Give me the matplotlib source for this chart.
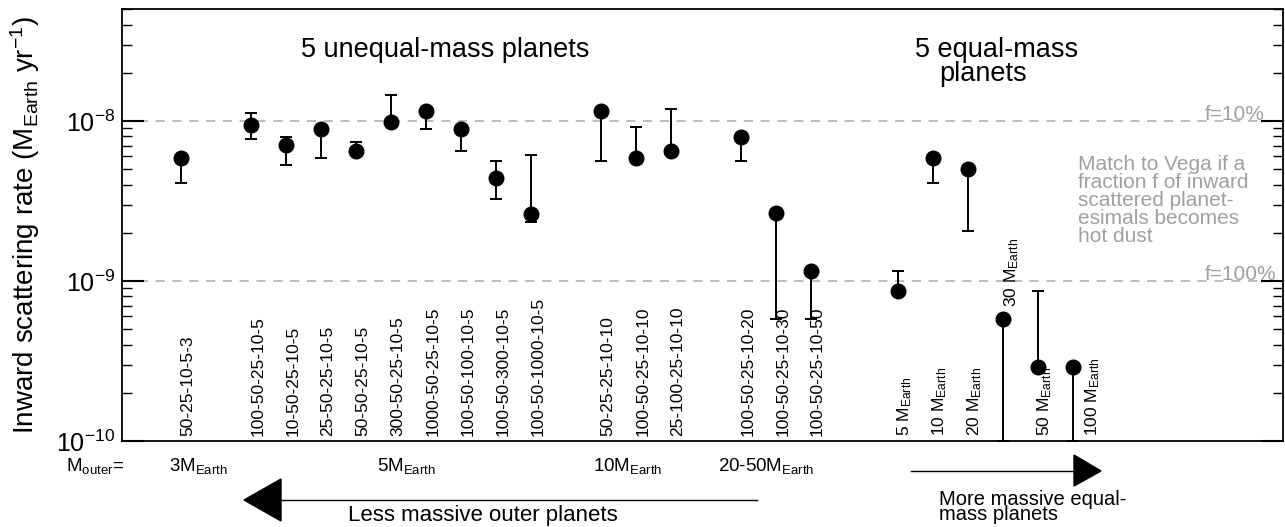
import matplotlib
matplotlib.use('Agg')
import matplotlib.pyplot as plt
import matplotlib.transforms as mtransforms
from matplotlib.patches import Polygon
from matplotlib.lines import Line2D

plt.rcParams['font.family'] = ['Liberation Sans', 'DejaVu Sans']
plt.rcParams['mathtext.fontset'] = 'custom'
plt.rcParams['mathtext.rm'] = 'Liberation Sans'
plt.rcParams['mathtext.it'] = 'Liberation Sans:italic'
plt.rcParams['mathtext.bf'] = 'Liberation Sans:bold'
plt.rcParams['axes.unicode_minus'] = False

# 5 unequal-mass planets (masses in M_Earth, listed as in the figure)
unequal_labels = ['50-25-10-5-3', '100-50-25-10-5', '10-50-25-10-5', '25-50-25-10-5',
                  '50-50-25-10-5', '300-50-25-10-5', '1000-50-25-10-5', '100-50-100-10-5',
                  '100-50-300-10-5', '100-50-1000-10-5', '50-25-25-10-10', '100-50-25-10-10',
                  '25-100-25-10-10', '100-50-25-10-20', '100-50-25-10-30', '100-50-25-10-50']
unequal_pos = [1, 3, 4, 5, 6, 7, 8, 9, 10, 11, 13, 14, 15, 17, 18, 19]
unequal_rate = [5.9e-9, 9.4e-9, 7.05e-9, 8.85e-9, 6.5e-9, 9.8e-9, 1.15e-8, 8.85e-9,
                4.4e-9, 2.62e-9, 1.15e-8, 5.9e-9, 6.5e-9, 7.9e-9, 2.64e-9, 1.16e-9]
unequal_low = [4.1e-9, 7.65e-9, 5.3e-9, 5.9e-9, 6.5e-9, 9.8e-9, 8.85e-9, 6.5e-9,
               3.23e-9, 2.34e-9, 5.6e-9, 5.9e-9, 6.5e-9, 5.6e-9, 5.8e-10, 5.8e-10]
unequal_high = [5.9e-9, 1.12e-8, 7.95e-9, 8.85e-9, 7.4e-9, 1.45e-8, 1.15e-8, 8.85e-9,
                5.6e-9, 6.15e-9, 1.15e-8, 9.15e-9, 1.18e-8, 7.9e-9, 2.64e-9, 1.16e-9]

# 5 equal-mass planets
equal_mass = ['5', '10', '20', '30', '50', '100']
equal_pos = [21.5, 22.5, 23.5, 24.5, 25.5, 26.5]
equal_rate = [8.7e-10, 5.9e-9, 5.0e-9, 5.8e-10, 2.9e-10, 2.9e-10]
equal_low = [8.7e-10, 4.1e-9, 2.05e-9, 1e-10, 2.9e-10, 1e-10]
equal_high = [1.16e-9, 5.9e-9, 5.0e-9, 5.8e-10, 8.7e-10, 2.9e-10]

W, H = 1285, 527
grey = '#a0a0a0'


def fpx(x, y):
    # image pixel -> figure fraction
    return x / W, 1 - y / H


fig = plt.figure(figsize=(W / 100, H / 100), dpi=100)
ax = fig.add_axes([122 / W, 86 / H, 1161 / W, 432 / H])

rates = unequal_rate + equal_rate
lows = unequal_low + equal_low
highs = unequal_high + equal_high
pos = unequal_pos + equal_pos
yerr = [[r - l for r, l in zip(rates, lows)], [h - r for r, h in zip(rates, highs)]]
ax.errorbar(pos, rates, yerr=yerr, fmt='o', color='black', markersize=10.5,
            elinewidth=1.4, capsize=4.3, capthick=1.4, zorder=3)

ax.axhline(1e-8, color='#aaaaaa', lw=1.1, ls=(0, (6, 5)), zorder=0)
ax.axhline(1e-9, color='#aaaaaa', lw=1.1, ls=(0, (6, 5)), zorder=0)

ax.set_yscale('log')
ax.set_ylim(1e-10, 5e-8)
ax.set_xlim(-0.68, 32.5)
ax.set_xticks([])
ax.tick_params(axis='y', which='both', direction='in', right=True, labelsize=18, pad=5)
ax.tick_params(axis='y', which='major', length=16, width=1.5)
ax.tick_params(axis='y', which='minor', length=7.5, width=1.0)
for s in ax.spines.values():
    s.set_linewidth(1.3)

ax.set_ylabel('Inward scattering rate (M$_{\\mathregular{Earth}}$ yr$^{\\mathregular{-1}}$)',
              fontsize=20)
ax.yaxis.set_label_coords(-0.069, 0.5)

trans = mtransforms.blended_transform_factory(ax.transData, ax.transAxes)
for p, lab in zip(unequal_pos, unequal_labels):
    ax.text(p + 0.2, 0.012, lab, rotation=90, ha='center', va='bottom',
            fontsize=12.5, transform=trans)
for p, m in zip(equal_pos, equal_mass):
    dx, y0 = 0.2, 0.012
    if m == '30':
        dx, y0 = 0.24, 0.31
    elif m == '100':
        dx = 0.55
    ax.text(p + dx, y0, m + ' M$_{\\mathregular{Earth}}$', rotation=90, ha='center',
            va='bottom', fontsize=12.5, transform=trans)

# group titles
fig.text(*fpx(445, 57), '5 unequal-mass planets', ha='center', va='baseline', fontsize=19.5)
fig.text(*fpx(915, 57), '5 equal-mass', ha='left', va='baseline', fontsize=19.5)
fig.text(*fpx(939, 81), 'planets', ha='left', va='baseline', fontsize=19.5)

# Vega note
vega_lines = ['Match to Vega if a', 'fraction f of inward', 'scattered planet-',
              'esimals becomes', 'hot dust']
for i, line in enumerate(vega_lines):
    fig.text(*fpx(1078, 170 + 18 * i), line, color=grey, fontsize=15, va='baseline')
fig.text(*fpx(1205, 120), 'f=10%', color=grey, fontsize=15, va='baseline')
fig.text(*fpx(1205, 280), 'f=100%', color=grey, fontsize=15, va='baseline')

# outer planet masses under the axis
fig.text(*fpx(66, 471), 'M$_{\\mathregular{outer}}$=', fontsize=13.5, va='baseline')
for x, txt in [(169, '3M'), (377, '5M'), (593, '10M'), (718, '20-50M')]:
    fig.text(*fpx(x, 471), txt + '$_{\\mathregular{Earth}}$', fontsize=13.5, va='baseline')

# arrows
fig.add_artist(Line2D([fpx(280, 500)[0], fpx(757, 500)[0]], [fpx(280, 500)[1]] * 2,
                      color='black', lw=1.0, transform=fig.transFigure))
fig.add_artist(Polygon([fpx(244, 500), fpx(281, 479), fpx(281, 521)], closed=True,
                       color='black', transform=fig.transFigure))
fig.text(*fpx(348, 521), 'Less massive outer planets', fontsize=16, va='baseline')

fig.add_artist(Line2D([fpx(911, 471)[0], fpx(1075, 471)[0]], [fpx(911, 471)[1]] * 2,
                      color='black', lw=1.0, transform=fig.transFigure))
fig.add_artist(Polygon([fpx(1101, 471), fpx(1074, 455), fpx(1074, 486)], closed=True,
                       color='black', transform=fig.transFigure))
fig.text(*fpx(939, 505), 'More massive equal-', fontsize=14.5, va='baseline')
fig.text(*fpx(939, 520), 'mass planets', fontsize=14.5, va='baseline')

fig.savefig('out.png', dpi=100)
